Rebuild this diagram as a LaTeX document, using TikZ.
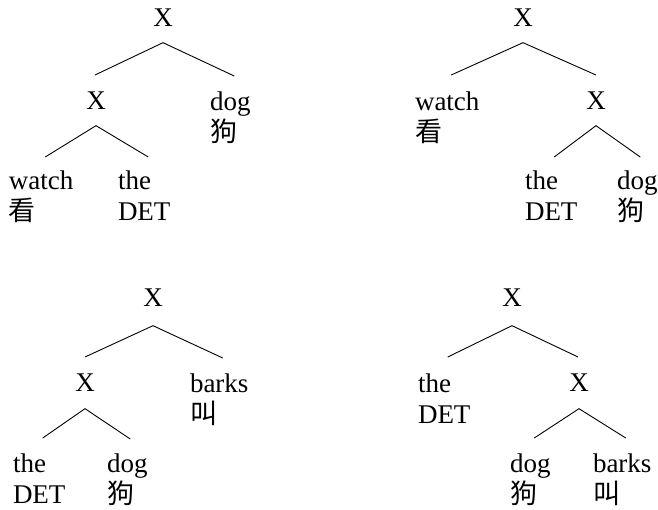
\documentclass[tikz,border=0pt]{standalone}
\usepackage{fontspec}
\setmainfont{Liberation Serif}
\newfontfamily\cjk{Noto Sans CJK SC}
\begin{document}
\begin{tikzpicture}[x=1pt,y=-1pt,
  lab/.style={inner sep=0pt, outer sep=0pt, font=\fontsize{27}{31}\selectfont, align=left},
  br/.style={line width=0.9pt}]
\useasboundingbox (0,0) rectangle (658,510);
% tree 1
\node[lab,anchor=north] (a) at (163,9) {X};
\node[lab,anchor=north] (a1) at (96,92) {X};
\node[lab,anchor=north west] (a2) at (210,92) {dog\\{\cjk 狗}};
\node[lab,anchor=north west] (a11) at (9,171) {watch\\{\cjk 看}};
\node[lab,anchor=north west] (a12) at (118,171) {the\\DET};
\draw[br] ([shift={(-1pt,17pt)}]a1.north) -- ([yshift=-16pt]a.south) -- ([shift={(4pt,16pt)}]a2.north);
\draw[br] ([shift={(4pt,14pt)}]a11.north) -- ([yshift=-16pt]a1.south) -- ([shift={(4pt,14pt)}]a12.north);
% tree 2
\node[lab,anchor=north] (b) at (523,9) {X};
\node[lab,anchor=north west] (b1) at (415,92) {watch\\{\cjk 看}};
\node[lab,anchor=north] (b2) at (596,92) {X};
\node[lab,anchor=north west] (b21) at (525,171) {the\\DET};
\node[lab,anchor=north west] (b22) at (617,171) {dog\\{\cjk 狗}};
\draw[br] ([shift={(4pt,17pt)}]b1.north) -- ([yshift=-16pt]b.south) -- ([yshift=17pt]b2.north);
\draw[br] ([shift={(3pt,14pt)}]b21.north) -- ([yshift=-16pt]b2.south) -- ([shift={(3pt,14pt)}]b22.north);
% tree 3
\node[lab,anchor=north] (c) at (153,289) {X};
\node[lab,anchor=north] (c1) at (85,374) {X};
\node[lab,anchor=north west] (c2) at (190,374) {barks\\{\cjk 叫}};
\node[lab,anchor=north west] (c11) at (13,454) {the\\DET};
\node[lab,anchor=north west] (c12) at (107,454) {dog\\{\cjk 狗}};
\draw[br] ([yshift=17pt]c1.north) -- ([yshift=-19pt]c.south) -- ([shift={(3.5pt,16pt)}]c2.north);
\draw[br] ([shift={(3.5pt,16pt)}]c11.north) -- ([yshift=-17pt]c1.south) -- ([shift={(3pt,15pt)}]c12.north);
% tree 4
\node[lab,anchor=north] (d) at (512,289) {X};
\node[lab,anchor=north west] (d1) at (418,374) {the\\DET};
\node[lab,anchor=north] (d2) at (579,374) {X};
\node[lab,anchor=north west] (d21) at (510,454) {dog\\{\cjk 狗}};
\node[lab,anchor=north west] (d22) at (593,454) {barks\\{\cjk 叫}};
\draw[br] ([shift={(3.5pt,17pt)}]d1.north) -- ([yshift=-19pt]d.south) -- ([shift={(-1pt,17pt)}]d2.north);
\draw[br] ([shift={(4pt,16pt)}]d21.north) -- ([yshift=-17pt]d2.south) -- ([shift={(3.5pt,16pt)}]d22.north);
\end{tikzpicture}
\end{document}
